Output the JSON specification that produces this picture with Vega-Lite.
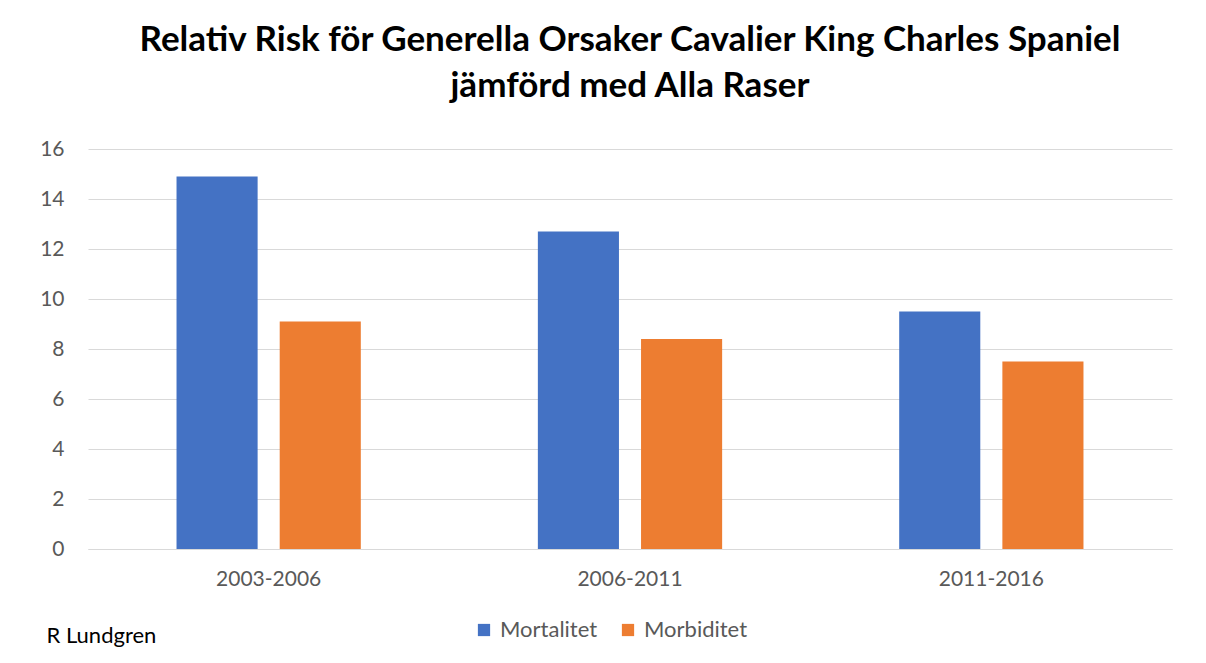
{
  "$schema": "https://vega.github.io/schema/vega-lite/v6.json",
  "width": 1084,
  "height": 400,
  "autosize": {"type": "none"},
  "padding": {"left": 88, "top": 149, "right": 34, "bottom": 114},
  "background": "white",
  "title": {
    "text": ["Relativ Risk för Generella Orsaker Cavalier King Charles Spaniel", "jämförd med Alla Raser"],
    "font": "Lato",
    "fontSize": 35,
    "fontWeight": "bold",
    "color": "#000000",
    "anchor": "middle",
    "lineHeight": 46,
    "offset": 34
  },
  "data": {
    "values": [
      {"period": "2003-2006", "serie": "Mortalitet", "risk": 14.9},
      {"period": "2003-2006", "serie": "Morbiditet", "risk": 9.1},
      {"period": "2006-2011", "serie": "Mortalitet", "risk": 12.7},
      {"period": "2006-2011", "serie": "Morbiditet", "risk": 8.4},
      {"period": "2011-2016", "serie": "Mortalitet", "risk": 9.5},
      {"period": "2011-2016", "serie": "Morbiditet", "risk": 7.5}
    ]
  },
  "mark": {"type": "bar"},
  "encoding": {
    "x": {
      "field": "period",
      "type": "nominal",
      "scale": {"paddingInner": 0.49, "paddingOuter": 0.245},
      "axis": {
        "title": "R Lundgren",
        "titleFont": "Lato",
        "titleFontSize": 22,
        "titleFontWeight": "normal",
        "titleColor": "#000000",
        "titleAnchor": "start",
        "titleAlign": "left",
        "titleBaseline": "alphabetic",
        "titleX": -42,
        "titleY": 93,
        "labelAngle": 0,
        "labelFont": "Lato",
        "labelFontSize": 21,
        "labelColor": "#595959",
        "labelPadding": 19,
        "ticks": false,
        "domainColor": "#D9D9D9",
        "domainWidth": 1
      }
    },
    "xOffset": {
      "field": "serie",
      "type": "nominal",
      "sort": ["Mortalitet", "Morbiditet"],
      "scale": {"paddingInner": 0.214, "paddingOuter": 0}
    },
    "y": {
      "field": "risk",
      "type": "quantitative",
      "scale": {"domain": [0, 16]},
      "axis": {
        "title": null,
        "values": [0, 2, 4, 6, 8, 10, 12, 14, 16],
        "domain": false,
        "ticks": false,
        "labelFont": "Lato",
        "labelFontSize": 21,
        "labelColor": "#595959",
        "labelPadding": 24,
        "gridColor": "#D9D9D9",
        "gridWidth": 1
      }
    },
    "color": {
      "field": "serie",
      "type": "nominal",
      "sort": ["Mortalitet", "Morbiditet"],
      "scale": {"domain": ["Mortalitet", "Morbiditet"], "range": ["#4472C4", "#ED7D31"]},
      "legend": {
        "title": null,
        "orient": "none",
        "direction": "horizontal",
        "legendX": 385,
        "legendY": 470,
        "symbolType": "square",
        "symbolSize": 150,
        "symbolStrokeWidth": 0,
        "labelFont": "Lato",
        "labelFontSize": 22,
        "labelColor": "#595959",
        "labelOffset": 5,
        "columnPadding": 19
      }
    }
  },
  "config": {
    "view": {"stroke": null}
  }
}
